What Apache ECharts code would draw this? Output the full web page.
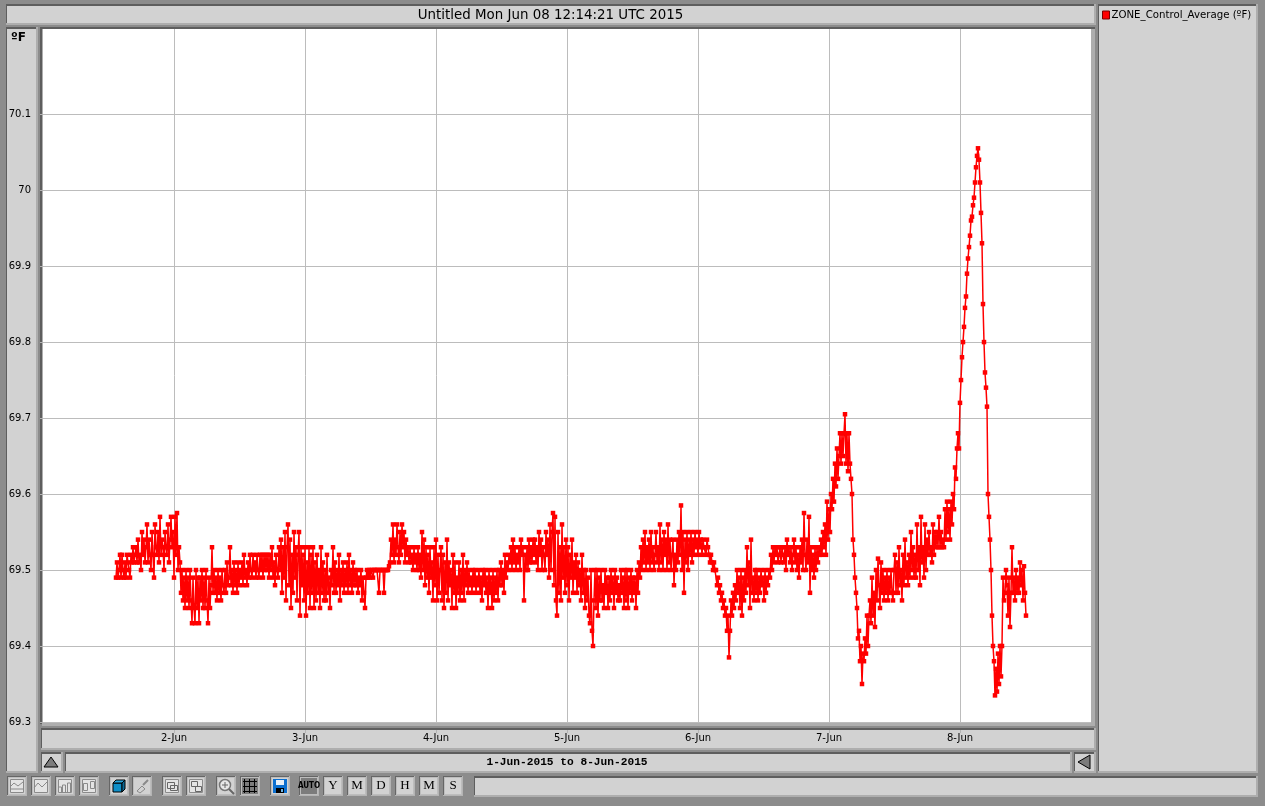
<!DOCTYPE html>
<html><head><meta charset="utf-8">
<style>html,body{margin:0;padding:0;background:#8c8c8c;overflow:hidden}#c{width:1265px;height:806px}</style>
<script src="https://cdn.jsdelivr.net/npm/echarts@6/dist/echarts.min.js"></script>
</head><body><div id="c"></div>
<script>
const titleText = 'Untitled Mon Jun 08 12:14:21 UTC 2015';
const rangeText = '1-Jun-2015 to 8-Jun-2015';
const seriesName = 'ZONE_Control_Average (ºF)';
const unitText = 'ºF';
const dayTicks = [1, 2, 3, 4, 5, 6, 7];
const dayLabels = ['', '2-Jun', '3-Jun', '4-Jun', '5-Jun', '6-Jun', '7-Jun', '8-Jun', ''];
const tempTicks = [69.3, 69.4, 69.5, 69.6, 69.7, 69.8, 69.9, 70, 70.1];
const firstDay = 0.5573;   // days after 1 Jun 00:00 of the first reading
const lastDay = 7.5038;    // days after 1 Jun 00:00 of the last reading
const zoneValues = [
69.49,69.51,69.49,69.50,69.52,69.49,69.52,69.50,69.49,69.51,69.49,69.52,69.51,69.50,69.49,69.52,69.51,69.53,69.51,69.52,69.53,69.51,69.54,69.51,69.52,69.50,69.55,69.52,69.54,69.51,
69.53,69.56,69.51,69.54,69.52,69.50,69.55,69.52,69.49,69.56,69.53,69.52,69.55,69.51,69.57,69.52,69.54,69.53,69.50,69.55,69.53,69.52,69.56,69.51,69.54,69.57,69.53,69.55,69.49,69.57,
69.52,69.575,69.50,69.53,69.51,69.47,69.50,69.46,69.49,69.45,69.50,69.46,69.49,69.45,69.50,69.46,69.43,69.49,69.45,69.43,69.50,69.45,69.49,69.43,69.49,69.46,69.50,69.45,69.49,69.45,
69.50,69.46,69.43,69.49,69.45,69.48,69.53,69.47,69.50,69.47,69.49,69.46,69.50,69.47,69.49,69.46,69.50,69.48,69.47,69.50,69.47,69.51,69.48,69.49,69.53,69.48,69.50,69.47,69.51,69.48,
69.50,69.47,69.51,69.48,69.50,69.49,69.51,69.48,69.52,69.49,69.50,69.48,69.51,69.49,69.52,69.50,69.49,69.52,69.50,69.51,69.49,69.52,69.50,69.49,69.52,69.50,69.52,69.49,69.52,69.50,
69.52,69.50,69.52,69.49,69.52,69.50,69.53,69.49,69.51,69.48,69.52,69.50,69.49,69.53,69.50,69.54,69.47,69.53,69.49,69.55,69.46,69.53,69.56,69.48,69.54,69.45,69.52,69.47,69.55,69.49,
69.53,69.46,69.52,69.55,69.44,69.53,69.48,69.52,69.46,69.53,69.44,69.51,69.47,69.53,69.45,69.52,69.47,69.53,69.45,69.51,69.46,69.52,69.47,69.50,69.45,69.53,69.47,69.51,69.46,69.50,
69.46,69.52,69.47,69.49,69.45,69.50,69.48,69.53,69.47,69.51,69.47,69.50,69.48,69.52,69.46,69.50,69.48,69.51,69.47,69.50,69.48,69.51,69.47,69.52,69.48,69.50,69.47,69.51,69.48,69.50,
69.48,69.50,69.47,69.49,69.48,69.50,69.46,69.49,69.47,69.45,69.49,69.50,69.49,69.50,69.49,69.50,69.50,69.49,69.50,69.50,69.50,69.50,69.50,69.47,69.50,69.50,69.50,69.50,69.47,69.50,
69.50,69.50,69.50,69.505,69.51,69.54,69.52,69.56,69.51,69.54,69.52,69.56,69.53,69.51,69.55,69.52,69.56,69.53,69.55,69.51,69.54,69.52,69.53,69.51,69.53,69.51,69.52,69.50,69.53,69.51,
69.52,69.50,69.53,69.50,69.52,69.49,69.55,69.50,69.54,69.48,69.53,69.49,69.52,69.47,69.53,69.49,69.51,69.46,69.53,69.48,69.54,69.46,69.52,69.47,69.50,69.53,69.46,69.52,69.45,69.51,
69.47,69.54,69.46,69.51,69.48,69.50,69.45,69.52,69.47,69.51,69.45,69.49,69.47,69.51,69.46,69.50,69.47,69.52,69.46,69.50,69.48,69.51,69.47,69.50,69.48,69.49,69.47,69.50,69.48,69.50,
69.47,69.49,69.48,69.50,69.47,69.49,69.46,69.50,69.48,69.50,69.47,69.49,69.45,69.50,69.47,69.49,69.45,69.50,69.46,69.49,69.47,69.50,69.46,69.50,69.48,69.51,69.48,69.50,69.47,69.52,
69.49,69.51,69.50,69.52,69.51,69.53,69.50,69.54,69.51,69.53,69.50,69.52,69.51,69.53,69.50,69.54,69.52,69.53,69.46,69.52,69.50,69.53,69.50,69.54,69.51,69.53,69.51,69.54,69.52,69.54,
69.51,69.53,69.50,69.55,69.52,69.54,69.50,69.53,69.52,69.50,69.55,69.52,69.54,69.49,69.56,69.50,69.55,69.575,69.48,69.57,69.46,69.44,69.55,69.47,69.53,69.46,69.56,69.49,69.53,69.47,
69.54,69.48,69.53,69.46,69.52,69.49,69.54,69.47,69.51,69.49,69.52,69.47,69.51,69.48,69.50,69.46,69.52,69.47,69.50,69.45,69.50,69.46,69.49,69.44,69.43,69.50,69.42,69.40,69.46,69.50,
69.45,69.50,69.44,69.49,69.46,69.50,69.46,69.48,69.45,69.50,69.47,69.49,69.45,69.49,69.46,69.50,69.47,69.49,69.45,69.50,69.47,69.49,69.46,69.48,69.46,69.50,69.47,69.49,69.45,69.50,
69.46,69.50,69.45,69.49,69.47,69.50,69.46,69.49,69.47,69.49,69.45,69.50,69.47,69.51,69.49,69.53,69.50,69.54,69.51,69.55,69.50,69.53,69.51,69.54,69.50,69.55,69.51,69.53,69.50,69.52,
69.55,69.51,69.53,69.50,69.56,69.51,69.54,69.50,69.55,69.52,69.54,69.50,69.56,69.51,69.54,69.50,69.52,69.54,69.48,69.52,69.50,69.54,69.51,69.55,69.52,69.585,69.50,69.55,69.47,69.54,
69.51,69.55,69.50,69.54,69.52,69.55,69.51,69.54,69.52,69.55,69.53,69.54,69.52,69.55,69.53,69.54,69.52,69.54,69.53,69.53,69.52,69.54,69.53,69.52,69.51,69.52,69.51,69.50,69.51,69.50,
69.50,69.48,69.49,69.47,69.48,69.46,69.47,69.45,69.46,69.44,69.45,69.42,69.44,69.385,69.42,69.46,69.44,69.47,69.45,69.48,69.46,69.50,69.47,69.49,69.45,69.50,69.44,69.49,69.46,69.50,
69.47,69.53,69.48,69.51,69.45,69.54,69.47,69.49,69.46,69.50,69.47,69.50,69.46,69.49,69.47,69.50,69.48,69.49,69.46,69.50,69.47,69.49,69.48,69.50,69.49,69.52,69.50,69.53,69.51,69.53,
69.52,69.53,69.51,69.52,69.53,69.51,69.53,69.52,69.51,69.53,69.50,69.54,69.52,69.53,69.51,69.53,69.50,69.52,69.54,69.51,69.53,69.50,69.52,69.49,69.53,69.51,69.54,69.50,69.575,69.52,
69.50,69.54,69.51,69.57,69.47,69.53,69.50,69.52,69.49,69.53,69.50,69.53,69.51,69.53,69.52,69.54,69.52,69.55,69.53,69.56,69.52,69.59,69.54,69.58,69.55,69.60,69.58,69.62,69.59,69.64,
69.61,69.66,69.62,69.65,69.68,69.64,69.68,69.65,69.68,69.705,69.64,69.68,69.63,69.68,69.64,69.62,69.60,69.54,69.52,69.49,69.47,69.45,69.41,69.42,69.38,69.40,69.35,69.39,69.38,69.41,
69.39,69.44,69.40,69.44,69.46,69.43,69.49,69.44,69.47,69.425,69.50,69.46,69.515,69.48,69.45,69.51,69.47,69.50,69.46,69.49,69.47,69.50,69.46,69.49,69.47,69.50,69.47,69.46,69.50,69.52,
69.47,69.51,69.47,69.53,69.48,69.50,69.46,69.52,69.48,69.54,69.49,69.51,69.48,69.52,69.49,69.55,69.50,69.53,69.49,69.52,69.49,69.56,69.50,69.53,69.48,69.57,69.51,69.53,69.49,69.56,
69.50,69.54,69.52,69.55,69.52,69.53,69.51,69.56,69.52,69.55,69.53,69.55,69.53,69.57,69.53,69.55,69.53,69.54,69.53,69.58,69.54,69.59,69.55,69.58,69.54,69.59,69.56,69.60,69.58,69.635,
69.62,69.66,69.68,69.66,69.72,69.75,69.78,69.80,69.82,69.845,69.86,69.89,69.91,69.925,69.94,69.96,69.965,69.98,69.99,70.01,70.03,70.045,70.055,70.04,70.01,69.97,69.93,69.85,69.80,69.76,
69.74,69.715,69.60,69.57,69.54,69.50,69.44,69.40,69.38,69.335,69.37,69.34,69.39,69.35,69.40,69.36,69.40,69.49,69.46,69.47,69.50,69.48,69.44,69.49,69.425,69.47,69.53,69.47,69.49,69.46,
69.50,69.47,69.49,69.47,69.51,69.48,69.50,69.46,69.505,69.47,69.44
];

const dayStep = (lastDay - firstDay) / (zoneValues.length - 1);
const points = zoneValues.map((v, i) => [firstDay + i * dayStep, v]);

const GREY = '#d2d2d2', DARK = '#5e5e5e', LIGHT = '#aeaeae';
const els = [];
function rect(x, y, w, h, fill, z) { els.push({ type: 'rect', silent: true, z: z ?? -5, shape: { x, y, width: w, height: h }, style: { fill } }); }
function line(pts, stroke, w, z) { els.push({ type: 'polyline', silent: true, z: z ?? -3, shape: { points: pts }, style: { stroke, lineWidth: w || 1, fill: null } }); }
function fillPoly(pts, fill, stroke) { els.push({ type: 'polygon', silent: true, z: -3, shape: { points: pts }, style: { fill, stroke: stroke || null, lineWidth: 1 } }); }
function text(x, y, t, font, align, fill) { els.push({ type: 'text', silent: true, z: -2, x, y, style: { text: t, font, fill: fill || '#000', align: align || 'left', verticalAlign: 'middle' } }); }
function panel(x, y, w, h, fill) {
  rect(x, y, w, h, LIGHT);
  rect(x, y, w - 2, h - 2, DARK);
  rect(x + 1, y + 2, w - 3, h - 4, fill || GREY);
}
function button(x, active) {
  const y = 776, w = 20, h = 20;
  rect(x, y, w, h, '#b4b4b4');
  rect(x, y, w - 1, h - 1, '#666');
  rect(x + 1, y + 1, w - 2, h - 2, '#bdbdbd');
  rect(x + 2, y + 2, w - 4, h - 4, active ? '#7c7c7c' : GREY);
}

// window panels
panel(6, 4, 1090, 21);
panel(6, 27, 32, 746);
rect(40, 27, 1055, 2, DARK);
rect(40, 27, 2, 697, DARK);
rect(42, 29, 1, 695, LIGHT);
rect(1091, 29, 4, 697, LIGHT);
rect(42, 723, 1053, 3, LIGHT);
panel(41, 728, 1055, 22);
panel(41, 752, 22, 21);
panel(65, 752, 1007, 21);
panel(1074, 752, 22, 21);
panel(1098, 4, 160, 769);
panel(474, 776, 784, 21);
fillPoly([[44, 767], [51, 757], [58, 767]], '#7c7c7c', '#000');
fillPoly([[1090, 755], [1078, 762], [1090, 769]], '#7c7c7c', '#000');
text(11, 38, unitText, 'bold 12px "DejaVu Sans"');
text(567, 762, rangeText, 'bold 11.2px "Liberation Mono"', 'center');

// tool bar
[7, 31, 55, 79, 109, 132, 162, 186, 216, 240, 270, 299, 323, 347, 371, 395, 419, 443].forEach(x => button(x, x === 240 || x === 299));
const B = '#8a8a8a';
function frame(x) { rect(x + 3, 779, 14, 14, '#e4e4e4', -4); line([[x + 3.5, 779.5], [x + 16.5, 779.5], [x + 16.5, 792.5], [x + 3.5, 792.5], [x + 3.5, 779.5]], B); }
frame(7); line([[10, 787], [14, 783], [18, 786], [23, 782]], B); line([[10, 789], [23, 789]], B);
frame(31); line([[34, 788], [38, 783], [42, 787], [47, 782]], B);
frame(55); [58, 62, 67].forEach((x, i) => line([[x + .5, 792], [x + .5, 787 - i * 2], [x + 3.5, 787 - i * 2], [x + 3.5, 792]], B));
frame(79); line([[83.5, 783.5], [87.5, 783.5], [87.5, 790.5], [83.5, 790.5], [83.5, 783.5]], B); line([[90.5, 781.5], [94.5, 781.5], [94.5, 788.5], [90.5, 788.5], [90.5, 781.5]], B);
fillPoly([[113, 783], [113, 792], [122, 792], [122, 783]], '#0f8fc8', '#000');
fillPoly([[113, 783], [116, 780], [125, 780], [122, 783]], '#2aa6dc', '#000');
fillPoly([[122, 783], [125, 780], [125, 789], [122, 792]], '#0b6a96', '#000');
line([[137, 791], [142, 786], [145, 789], [140, 793], [137, 791]], '#8a8a8a'); line([[143, 785], [148, 780]], '#8a8a8a', 2);
frame(162); line([[167.5, 782.5], [174.5, 782.5], [174.5, 788.5], [167.5, 788.5], [167.5, 782.5]], '#666'); line([[170.5, 785.5], [177.5, 785.5], [177.5, 790.5], [170.5, 790.5], [170.5, 785.5]], '#666');
frame(186); line([[191.5, 781.5], [197.5, 781.5], [197.5, 786.5], [191.5, 786.5], [191.5, 781.5]], '#666'); line([[195.5, 786.5], [201.5, 786.5], [201.5, 791.5], [195.5, 791.5], [195.5, 786.5]], '#666');
els.push({ type: 'circle', silent: true, z: -3, shape: { cx: 225, cy: 785, r: 5.5 }, style: { fill: '#e8e8e8', stroke: '#777', lineWidth: 1.5 } });
line([[222, 785], [228, 785]], '#666'); line([[225, 782], [225, 788]], '#666'); line([[229, 789], [234, 794]], '#666', 2);
[244, 249, 254].forEach(x => line([[x + .5, 779], [x + .5, 793]], '#000'));
[781, 786, 791].forEach(y => line([[243, y + .5], [257, y + .5]], '#000'));
rect(273, 779, 14, 14, '#0b6fd0', -4); rect(276, 780, 8, 5, '#e8f0f8', -3); rect(276, 788, 8, 5, '#000', -3); rect(281, 789, 2, 3, '#6fb6e8', -2);
text(309, 786, 'AUTO', 'bold 8px "DejaVu Sans Condensed"', 'center');
[['Y', 333], ['M', 357], ['D', 381], ['H', 405], ['M', 429], ['S', 453]].forEach(([t, x]) => text(x, 786, t, '13px "Liberation Serif"', 'center'));

const option = {
  animation: false,
  backgroundColor: '#8c8c8c',
  textStyle: { fontFamily: '"DejaVu Sans"' },
  title: { text: titleText, left: 550.5, textAlign: 'center', top: 8, padding: 0,
    textStyle: { fontFamily: '"DejaVu Sans"', fontSize: 13.4, fontWeight: 500, color: '#000', lineHeight: 16 } },
  legend: { left: 1102, top: 10, padding: 0, itemWidth: 7, itemHeight: 8, icon: 'rect',
    textStyle: { fontSize: 10.2, color: '#000', padding: [0, 0, 0, -3] },
    itemStyle: { color: '#f00', borderColor: '#7a0000', borderWidth: 1 }, data: [seriesName] },
  grid: { left: 43, top: 29, width: 1048, height: 693, show: true, backgroundColor: '#fff', borderWidth: 0 },
  xAxis: { type: 'value', min: 0, max: 8, interval: 1, offset: 8,
    axisLine: { show: false },
    axisTick: { show: true, length: 3, customValues: dayTicks, lineStyle: { color: '#b4b4b4' } },
    axisLabel: { margin: 3, fontSize: 10, color: '#000', fontFamily: '"DejaVu Sans"', customValues: dayTicks, formatter: v => dayLabels[v] },
    splitLine: { show: true, lineStyle: { color: '#bcbcbc', width: 1 } } },
  yAxis: { type: 'value', min: 69.3, max: 70.212, offset: 8,
    axisLine: { show: false },
    axisTick: { show: true, length: 3, customValues: tempTicks, lineStyle: { color: '#b4b4b4' } },
    axisLabel: { margin: 4, fontSize: 10, color: '#000', fontFamily: '"DejaVu Sans"', padding: [2, 0, 0, 0], customValues: tempTicks,
      formatter: v => String(v) },
    splitLine: { show: true, lineStyle: { color: '#bcbcbc', width: 1 } } },
  graphic: { elements: els },
  series: [{ name: seriesName, type: 'line', data: points, color: '#f00', showSymbol: true, symbol: 'rect', symbolSize: 4.5,
    showAllSymbol: true, lineStyle: { color: '#f00', width: 1.5 }, itemStyle: { color: '#f00' }, emphasis: { disabled: true }, silent: true }]
};
const chart = echarts.init(document.getElementById('c'), null, { renderer: 'canvas' });
chart.setOption(option);
</script></body></html>
